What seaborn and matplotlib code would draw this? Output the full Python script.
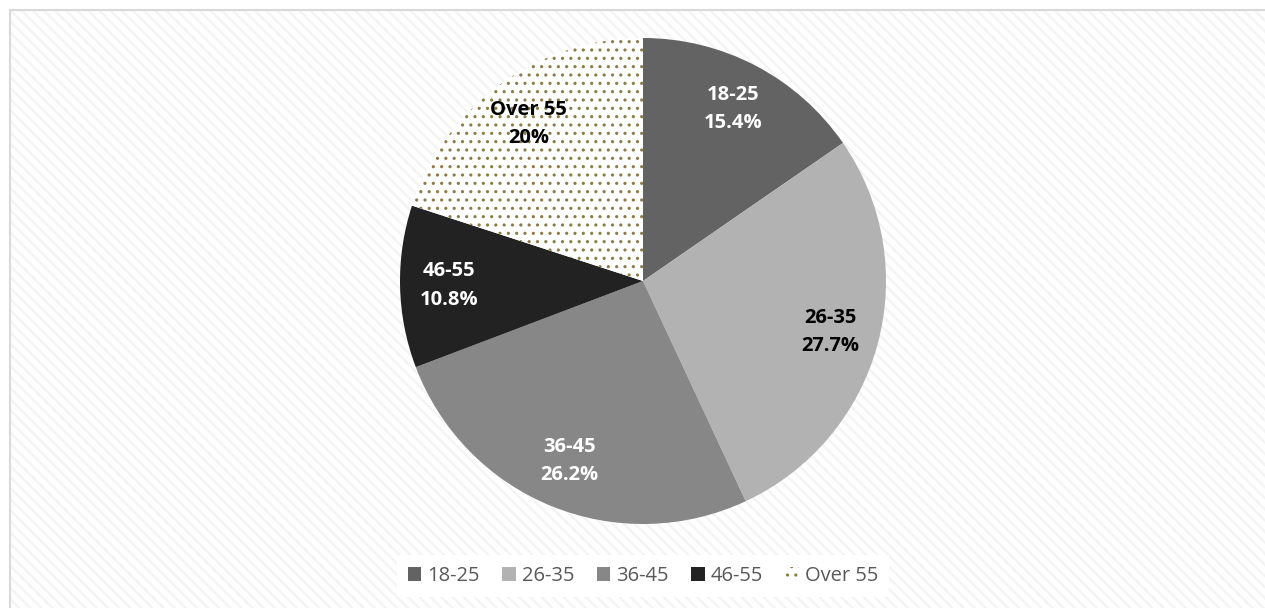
import numpy as np
import matplotlib
matplotlib.use("Agg")
import matplotlib.pyplot as plt
import seaborn as sns
from matplotlib.patches import Rectangle

# data
age_groups = ["18-25", "26-35", "36-45", "46-55", "Over 55"]
shares = [15.4, 27.7, 26.2, 10.8, 20.0]
share_labels = ["15.4%", "27.7%", "26.2%", "10.8%", "20%"]

slice_colors = ["#636363", "#b2b2b2", "#878787", "#222222", "#ffffff"]
text_colors = ["white", "black", "white", "white", "black"]

sns.set_theme(style="white")
plt.rcParams["font.family"] = ["Open Sans", "DejaVu Sans"]

W, H = 1265, 608
fig = plt.figure(figsize=(W / 100, H / 100), dpi=100)
fig.patch.set_facecolor("white")

# striped chart-area background and its thin border
plt.rcParams["hatch.linewidth"] = 1.8
bg = Rectangle((10 / W, 0), 1, 1 - 10 / H, transform=fig.transFigure,
               facecolor="white", edgecolor="#f4f4f4", linewidth=0,
               hatch="\\\\\\", zorder=-10)
fig.patches.append(bg)
border = Rectangle((10 / W, -0.01), 1, 1 - 10 / H + 0.01, transform=fig.transFigure,
                   facecolor="none", edgecolor="#d9d9d9", linewidth=1.5, zorder=-9)
fig.patches.append(border)

cx, cy, r = 643, 281, 243
ax = fig.add_axes([(cx - r) / W, (H - cy - r) / H, 2 * r / W, 2 * r / H])
ax.patch.set_alpha(0)

plt.rcParams["hatch.linewidth"] = 1.1
wedges, _ = ax.pie(shares, colors=slice_colors, startangle=90, counterclock=False,
                   wedgeprops=dict(linewidth=0, edgecolor="none"))
# dotted fill for the last slice
wedges[-1].set_edgecolor("#8b7d45")
wedges[-1].set_hatch("..")

for w, name, pct, tc in zip(wedges, age_groups, share_labels, text_colors):
    mid = np.deg2rad((w.theta1 + w.theta2) / 2)
    ax.text(0.8 * np.cos(mid), 0.8 * np.sin(mid), f"{name}\n{pct}",
            ha="center", va="center", color=tc, fontsize=14.5,
            fontweight="bold", linespacing=1.55)

ax.set_xlim(-1, 1)
ax.set_ylim(-1, 1)
ax.set_aspect("equal")
ax.axis("off")

leg = fig.legend(wedges, age_groups, loc="center", ncol=5,
                 bbox_to_anchor=(cx / W, (H - 576) / H), frameon=True,
                 fancybox=False, fontsize=14.5, handlelength=0.68, handleheight=0.68,
                 handletextpad=0.3, columnspacing=1.1, borderpad=0.55)
leg.get_frame().set_facecolor("white")
leg.get_frame().set_edgecolor("none")
leg.get_frame().set_alpha(1)
for t in leg.get_texts():
    t.set_color("#595959")

fig.savefig("out.png", dpi=100, facecolor=fig.get_facecolor())
